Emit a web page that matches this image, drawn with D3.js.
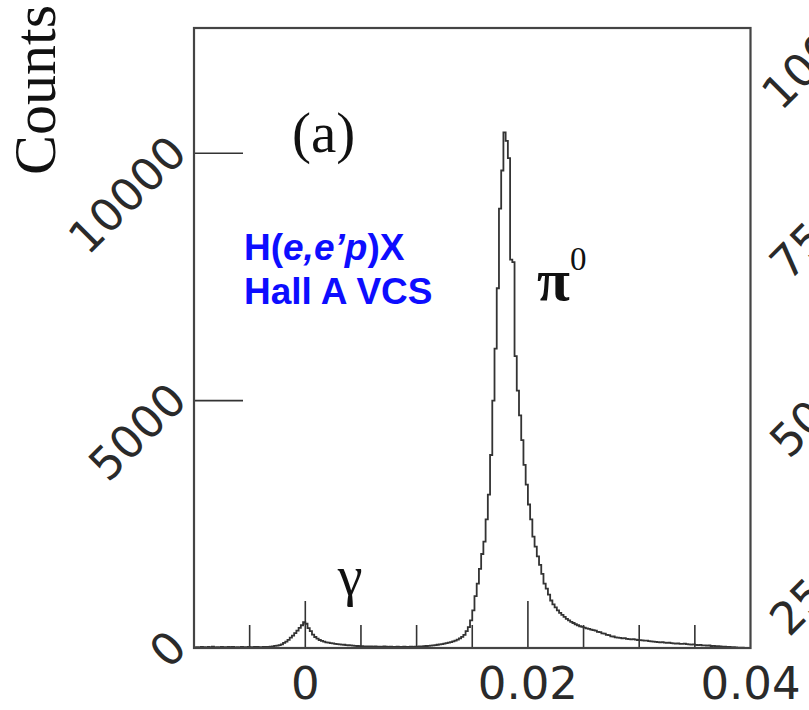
<!DOCTYPE html>
<html>
<head>
<meta charset="utf-8">
<script src="https://cdn.jsdelivr.net/npm/d3@7"></script>
<style>
  body { margin: 0; background: #fff; }
  svg { display: block; }
</style>
</head>
<body>
<div id="chart-area"></div>
<script>
// histogram: 250 bins of width 0.0002 starting at -0.01
const binStart = -0.01;
const binWidth = 0.0002;
const counts = [
  12, 18, 10, 22, 15, 8, 20, 14, 25, 12,
  16, 10, 22, 18, 12, 20, 15, 24, 10, 18,
  14, 20, 16, 12, 22, 18, 15, 20, 24, 18,
  18, 20, 22, 24, 28, 34, 42, 50, 60, 72,
  105, 130, 165, 210, 250, 300, 350, 405, 460, 520,
  490, 400, 340, 270, 222, 190, 162, 145, 128, 115,
  108, 100, 92, 85, 80, 74, 70, 66, 60, 56,
  52, 48, 42, 40, 38, 36, 34, 33, 31, 30,
  28, 30, 26, 28, 24, 30, 26, 22, 28, 24,
  22, 26, 20, 24, 28, 22, 20, 26, 24, 28,
  26, 30, 32, 36, 40, 44, 50, 55, 60, 66,
  72, 80, 88, 98, 108, 120, 135, 150, 170, 195,
  225, 265, 340, 420, 560, 760, 1050, 1300, 1600, 1900,
  2150, 2600, 3100, 3900, 5000, 6050, 7270, 8880, 9650, 10420,
  10250, 9900, 7850, 7800, 5900, 5200, 4700, 4200, 3700, 3300,
  2900, 2600, 2250, 2050, 1850, 1680, 1500, 1300, 1200, 1080,
  960, 880, 820, 760, 710, 670, 630, 590, 560, 530,
  505, 480, 460, 440, 425, 410, 395, 385, 370, 360,
  350, 325, 320, 295, 290, 265, 260, 235, 232, 215,
  210, 205, 195, 200, 185, 180, 175, 178, 168, 162,
  160, 155, 148, 150, 140, 135, 130, 125, 120, 115,
  118, 110, 105, 108, 98, 95, 90, 92, 85, 82,
  88, 80, 75, 70, 72, 65, 60, 62, 55, 52,
  48, 55, 40, 44, 36, 38, 30, 28, 25, 22,
  20, 18, 15, 10, 8, 6, 5, 4, 3, 2
];

const xDomain = [-0.01, 0.04];
const yDomain = [0, 12530];
const xMinorTicks = [-0.005, 0.005, 0.01, 0.015, 0.025, 0.03, 0.035];
const xMajorTicks = [0, 0.02];
const xLabelTicks = [0, 0.02, 0.04];
const xLabels = ["0", "0.02", "0.04"];
const yMajorTicks = [5000, 10000];
const yLabelTicks = [0, 5000, 10000];
const yLabels = ["0", "5000", "10000"];
// cut-off tick labels of the neighbouring panel
const nextPanelLabels = ["1000", "750", "500", "250"];

function drawChart() {
  document.getElementById("chart-area").innerHTML = "";

  const W = 809, H = 710;
  const left = 194, right = 750.5, top = 28, bottom = 648;

  const svg = d3.select("#chart-area").append("svg")
      .attr("width", W)
      .attr("height", H);

  svg.append("rect")
      .attr("width", W).attr("height", H)
      .attr("fill", "#fff");

  const x = d3.scaleLinear().domain(xDomain).range([left, right]);
  const y = d3.scaleLinear().domain(yDomain).range([bottom, top]);

  // histogram as step line
  const pts = counts.map((c, i) => [binStart + i * binWidth, c]);
  pts.push([binStart + counts.length * binWidth, counts[counts.length - 1]]);

  const line = d3.line()
      .x(d => x(d[0]))
      .y(d => y(d[1]))
      .curve(d3.curveStepAfter);

  svg.append("path")
      .datum(pts)
      .attr("fill", "none")
      .attr("stroke", "#333")
      .attr("stroke-width", 1.8)
      .attr("d", line);

  // ticks
  svg.selectAll("line.xminor")
      .data(xMinorTicks)
      .enter().append("line")
      .attr("class", "xminor")
      .attr("x1", d => x(d)).attr("x2", d => x(d))
      .attr("y1", bottom).attr("y2", bottom - 23)
      .attr("stroke", "#333").attr("stroke-width", 1.6);

  svg.selectAll("line.xmajor")
      .data(xMajorTicks)
      .enter().append("line")
      .attr("class", "xmajor")
      .attr("x1", d => x(d)).attr("x2", d => x(d))
      .attr("y1", bottom).attr("y2", bottom - 47)
      .attr("stroke", "#333").attr("stroke-width", 1.6);

  svg.selectAll("line.ymajor")
      .data(yMajorTicks)
      .enter().append("line")
      .attr("class", "ymajor")
      .attr("x1", left).attr("x2", left + 49)
      .attr("y1", d => y(d)).attr("y2", d => y(d))
      .attr("stroke", "#333").attr("stroke-width", 1.6);

  // frame
  svg.append("rect")
      .attr("x", left).attr("y", top)
      .attr("width", right - left).attr("height", bottom - top)
      .attr("fill", "none")
      .attr("stroke", "#444")
      .attr("stroke-width", 2.2);

  // tick labels
  svg.selectAll("text.xlab")
      .data(xLabelTicks)
      .enter().append("text")
      .attr("class", "xlab")
      .attr("x", d => x(d))
      .attr("y", 699)
      .attr("text-anchor", "middle")
      .style("font-family", "DejaVu Sans, sans-serif")
      .style("font-size", "45px")
      .style("fill", "#2a2a2a")
      .text((d, i) => xLabels[i]);

  svg.selectAll("text.ylab")
      .data(yLabelTicks)
      .enter().append("text")
      .attr("class", "ylab")
      .attr("transform", d => "translate(189," + (y(d) + 2) + ") rotate(-45)")
      .attr("text-anchor", "end")
      .style("font-family", "DejaVu Sans, sans-serif")
      .style("font-size", "45px")
      .style("fill", "#2a2a2a")
      .text((d, i) => yLabels[i]);

  svg.selectAll("text.nextlab")
      .data(nextPanelLabels)
      .enter().append("text")
      .attr("class", "nextlab")
      .attr("transform", (d, i) => i === 0
          ? "translate(781,112) rotate(-45)"
          : "translate(789," + (104 + i * 178) + ") rotate(-45)")
      .attr("text-anchor", "start")
      .style("font-family", "DejaVu Sans, sans-serif")
      .style("font-size", "45px")
      .style("fill", "#2a2a2a")
      .text(d => d);

  // axis title
  svg.append("text")
      .attr("transform", "translate(55,175) rotate(-90)")
      .attr("text-anchor", "start")
      .style("font-family", "Liberation Serif, Times New Roman, serif")
      .style("font-size", "60px")
      .style("fill", "#111")
      .text("Counts");

  // annotations
  svg.append("text")
      .attr("x", 292).attr("y", 152)
      .style("font-family", "Liberation Serif, serif")
      .style("font-size", "57px")
      .style("fill", "#111")
      .text("(a)");

  const blue = svg.append("g")
      .style("font-family", "Liberation Sans, Arial, sans-serif")
      .style("font-weight", "bold")
      .style("font-size", "37px")
      .style("fill", "#0d0dff");

  const l1 = blue.append("text").attr("x", 244).attr("y", 260);
  l1.append("tspan").text("H(");
  l1.append("tspan").style("font-style", "italic").text("e,e’p");
  l1.append("tspan").text(")X");

  blue.append("text").attr("x", 244).attr("y", 304).text("Hall A VCS");

  const pi = svg.append("text")
      .attr("x", 537).attr("y", 300)
      .style("font-family", "Liberation Serif, serif")
      .style("fill", "#111");
  pi.append("tspan").style("font-size", "60px").style("font-weight", "bold").text("π");
  pi.append("tspan").attr("dy", -30).style("font-size", "33px").text("0");

  svg.append("text")
      .attr("x", 350).attr("y", 595)
      .attr("text-anchor", "middle")
      .style("font-family", "Liberation Serif, serif")
      .style("font-size", "56px")
      .style("fill", "#111")
      .text("γ");
}

drawChart();
</script>
</body>
</html>
